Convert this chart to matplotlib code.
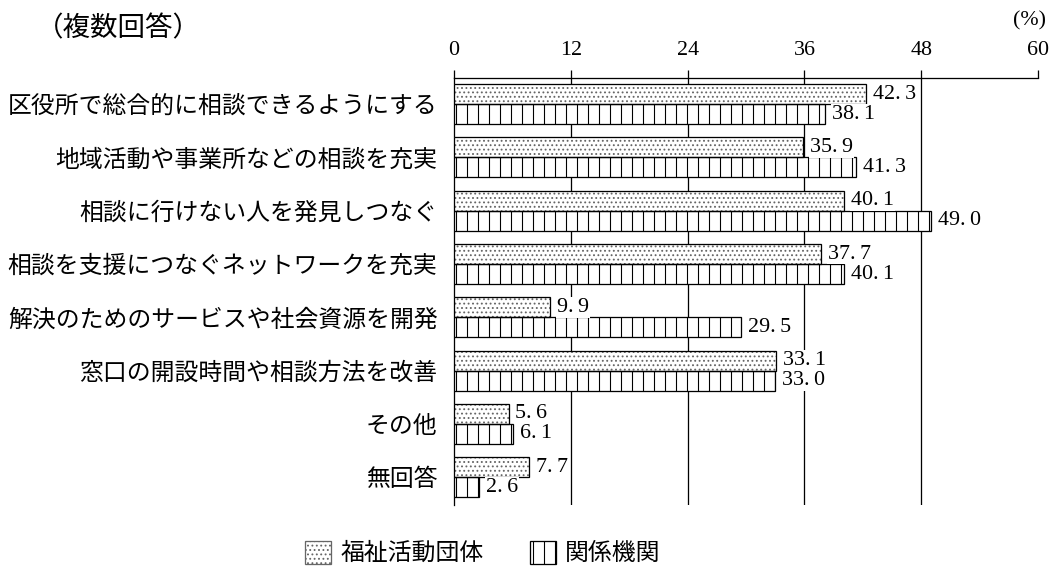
import matplotlib
matplotlib.use('Agg')
import numpy as np
import matplotlib.pyplot as plt
from matplotlib.patches import Patch

plt.rcParams['font.family'] = ['Noto Sans CJK JP', 'DejaVu Sans']
plt.rcParams['hatch.linewidth'] = 0.6

categories = ['区役所で総合的に相談できるようにする', '地域活動や事業所などの相談を充実',
              '相談に行けない人を発見しつなぐ', '相談を支援につなぐネットワークを充実',
              '解決のためのサービスや社会資源を開発', '窓口の開設時間や相談方法を改善',
              'その他', '無回答']
fukushi = [42.3, 35.9, 40.1, 37.7, 9.9, 33.1, 5.6, 7.7]
kankei = [38.1, 41.3, 49.0, 40.1, 29.5, 33.0, 6.1, 2.6]
series_names = ['福祉活動団体', '関係機関']
xticks = [0, 12, 24, 36, 48, 60]

DPI = 132
fig = plt.figure(figsize=(1051 / DPI, 566 / DPI), dpi=DPI)
ax = fig.add_axes([454 / 1051, 1 - 505 / 566, (1038 - 454) / 1051, (505 - 78) / 566])

y = np.arange(len(categories))
h = 0.375
serif = ['Liberation Serif', 'DejaVu Serif']

# dotted bars: hatch in gray, outline in black
ax.barh(y - h / 2, fukushi, height=h, color='white', hatch='.....',
        edgecolor='#666666', linewidth=0, zorder=3)
ax.barh(y - h / 2, fukushi, height=h, fill=False, edgecolor='black',
        linewidth=0.7, zorder=4)
ax.barh(y + h / 2, kankei, height=h, color='white', hatch='||',
        edgecolor='black', linewidth=0.7, zorder=3)

box = dict(facecolor='white', edgecolor='none', pad=0.5)
for yi, v in zip(y, fukushi):
    ax.text(v + 0.7, yi - h / 2, f'{v:.1f}'.replace('.', '.\u2009'), va='center',
            ha='left', fontsize=12, family=serif, zorder=5, bbox=box)
for yi, v in zip(y, kankei):
    ax.text(v + 0.7, yi + h / 2, f'{v:.1f}'.replace('.', '.\u2009'), va='center',
            ha='left', fontsize=12, family=serif, zorder=5, bbox=box)

ax.set_xlim(0, 60)
ax.set_ylim(len(categories) - 0.48, -0.49)
ax.set_xticks(xticks)
ax.xaxis.tick_top()
ax.tick_params(axis='x', direction='out', length=4.4, width=0.7, pad=5.5, labelsize=12)
for lab in ax.get_xticklabels():
    lab.set_family(serif)
ax.set_yticks(y)
ax.set_yticklabels(categories, fontsize=13.0)
ax.tick_params(axis='y', length=0, pad=9)

for x in xticks[1:-1]:
    ax.axvline(x, color='black', linewidth=0.7, zorder=1)
ax.spines['right'].set_visible(False)
ax.spines['bottom'].set_visible(False)
ax.spines['top'].set_linewidth(0.7)
ax.spines['left'].set_linewidth(0.7)

fig.text(36 / 1051, 1 - 29 / 566, '（複数回答）', fontsize=15, va='center', ha='left')
fig.text(1046 / 1051, 1 - 21 / 566, '(%)', fontsize=12, family=serif, va='center', ha='right')

handles = [Patch(facecolor='white', hatch='.....', edgecolor='#666666', linewidth=0.7),
           Patch(facecolor='white', hatch='||', edgecolor='black', linewidth=0.7)]
fig.legend(handles, series_names, loc='center', bbox_to_anchor=(483 / 1051, 1 - 553 / 566),
           ncol=2, frameon=False, fontsize=13, handlelength=1.1, handleheight=1.1,
           handletextpad=0.4, columnspacing=1.9)

fig.savefig('out.png', dpi=DPI)
